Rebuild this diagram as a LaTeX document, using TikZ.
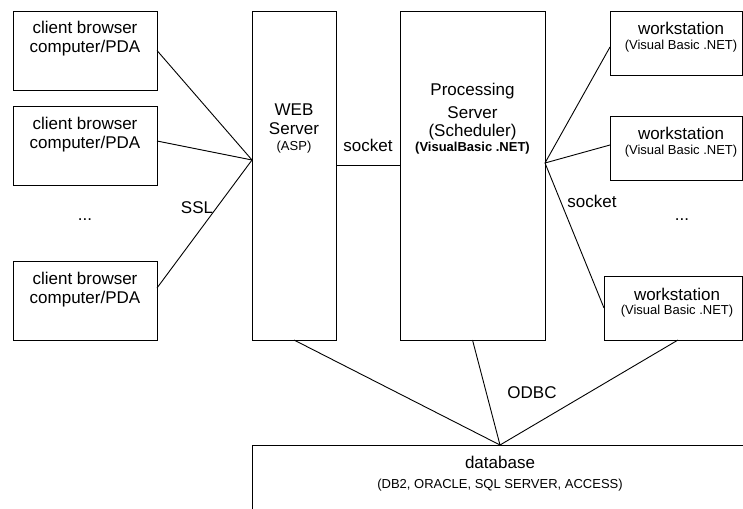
\documentclass[tikz,border=0pt]{standalone}
\usepackage{fontspec}
\setmainfont{Liberation Sans}
\begin{document}
\begin{tikzpicture}[x=1pt,y=-1pt,
  box/.style={draw=black, line width=0.9pt, inner sep=0pt, outer sep=0pt},
  conn/.style={draw=black, line width=0.9pt},
  big/.style={font=\fontsize{17}{20}\selectfont, inner sep=0pt, anchor=base},
  small/.style={font=\fontsize{13}{15}\selectfont, inner sep=0pt, anchor=base},
  smallb/.style={font=\fontsize{13}{15}\selectfont\bfseries, inner sep=0pt, anchor=base}]
\useasboundingbox (0,0) rectangle (743,508);
\clip (0,0) rectangle (743,508);
% boxes
\node[box, minimum width=144, minimum height=79] (c1) at (85,50.5) {};
\node[box, minimum width=144, minimum height=79] (c2) at (85,145.5) {};
\node[box, minimum width=144, minimum height=79] (c3) at (85,300.5) {};
\node[box, minimum width=84, minimum height=329] (web) at (294,175.5) {};
\node[box, minimum width=145, minimum height=329] (proc) at (472.5,175.5) {};
\node[box, minimum width=132, minimum height=64] (ws1) at (676,43) {};
\node[box, minimum width=132, minimum height=64] (ws2) at (676,148) {};
\node[box, minimum width=138, minimum height=64] (ws3) at (673,308) {};
\node[box, minimum width=496, minimum height=110] (db) at (500,500) {};
% texts
\node[big] (c1a) at (85,34) {client browser};
\node[big] (c1b) at (85,53) {computer/PDA};
\node[big] (c2a) at (85,129) {client browser};
\node[big] (c2b) at (85,148) {computer/PDA};
\node[big] (c3a) at (85,284) {client browser};
\node[big] (c3b) at (85,303) {computer/PDA};
\node[big] (dotsl) at (85,220) {...};
\node[big] (ssl) at (197,213) {SSL};
\node[big] (weba) at (294,115.5) {WEB};
\node[big] (webb) at (294,134) {Server};
\node[small] (webc) at (294,150) {(ASP)};
\node[big] (sock1) at (368,151) {socket};
\node[big] (proca) at (472.5,95.5) {Processing};
\node[big] (procb) at (472.5,118) {Server};
\node[big] (procc) at (472.5,136.5) {(Scheduler)};
\node[smallb] (procd) at (472.5,151.5) {(VisualBasic .NET)};
\node[big] (ws1a) at (681,35) {workstation};
\node[small] (ws1b) at (681,50) {(Visual Basic .NET)};
\node[big] (ws2a) at (681,139.5) {workstation};
\node[small] (ws2b) at (681,154.5) {(Visual Basic .NET)};
\node[big] (ws3a) at (677,300) {workstation};
\node[small] (ws3b) at (677,314.5) {(Visual Basic .NET)};
\node[big] (sock2) at (592,207) {socket};
\node[big] (dotsr) at (682,220) {...};
\node[big] (odbc) at (532,398) {ODBC};
\node[big] (dba) at (500,468) {database};
\node[small] (dbb) at (500,488) {(DB2, ORACLE, SQL SERVER, ACCESS)};
% connectors
\coordinate (webin) at ([yshift=15.5pt]web.west);
\draw[conn] (c1.east) -- (webin);
\draw[conn] ([yshift=4.5pt]c2.east) -- (webin);
\draw[conn] ([yshift=12.5pt]c3.east) -- (webin);
\draw[conn] ([yshift=10.5pt]web.east) -- ([yshift=10.5pt]proc.west);
\coordinate (procout) at ([yshift=12.5pt]proc.east);
\draw[conn] (procout) -- ([yshift=-4pt]ws1.west);
\draw[conn] (procout) -- ([yshift=3pt]ws2.west);
\draw[conn] (procout) -- (ws3.west);
\draw[conn] (web.south) -- (db.north);
\draw[conn] (proc.south) -- (db.north);
\draw[conn] ([xshift=5pt]ws3.south) -- (db.north);
\end{tikzpicture}
\end{document}
